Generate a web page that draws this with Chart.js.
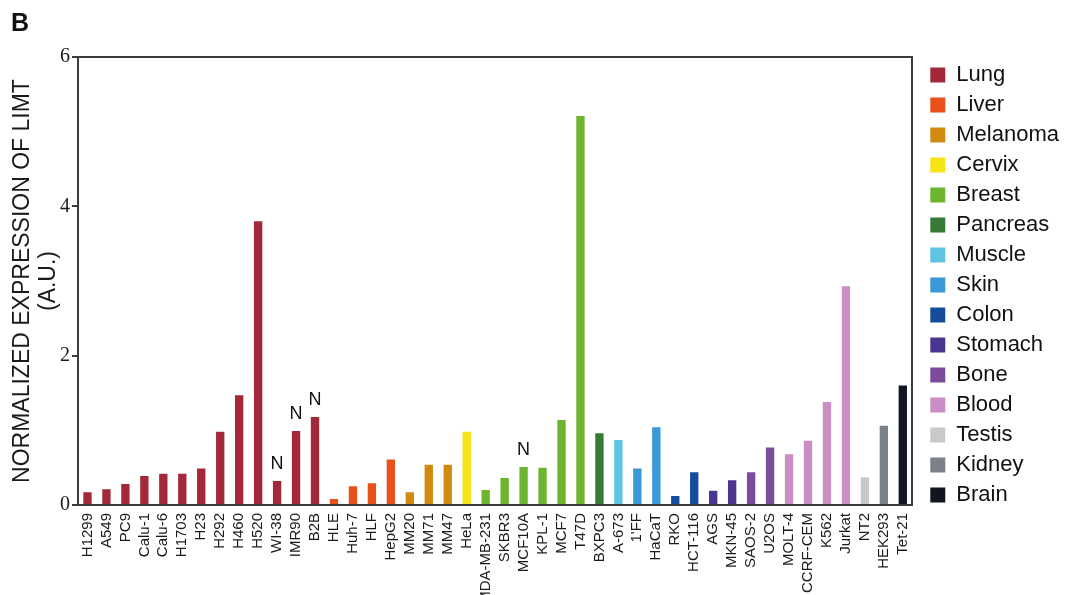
<!DOCTYPE html>
<html>
<head>
<meta charset="utf-8">
<script src="https://cdn.jsdelivr.net/npm/chart.js@4.4.1/dist/chart.umd.min.js"></script>
<style>
  html, body { margin: 0; padding: 0; background: #fff; }
  #wrap { width: 1065px; height: 595px; }
</style>
</head>
<body>
<div id="wrap"><canvas id="chart-limt" width="1065" height="595"></canvas></div>
<script>
// Tissue groups + legend colours
const tissues = ['Lung', 'Liver', 'Melanoma', 'Cervix', 'Breast', 'Pancreas', 'Muscle', 'Skin',
  'Colon', 'Stomach', 'Bone', 'Blood', 'Testis', 'Kidney', 'Brain'];
const tissueColors = ['#a3293a', '#e8521a', '#d08a10', '#f7e414', '#6db52f', '#357a35', '#5dc4e2',
  '#3a98d6', '#154c9c', '#4a3690', '#7c4b9c', '#ca8ec4', '#c9c9c9', '#7c8088', '#111520'];

// Cell lines, in plot order
const cellLines = ['H1299', 'A549', 'PC9', 'Calu-1', 'Calu-6', 'H1703', 'H23', 'H292', 'H460', 'H520',
  'WI-38', 'IMR90', 'B2B', 'HLE', 'Huh-7', 'HLF', 'HepG2', 'MM20', 'MM71', 'MM47', 'HeLa',
  'MDA-MB-231', 'SKBR3', 'MCF10A', 'KPL-1', 'MCF7', 'T47D', 'BXPC3', 'A-673', "1'FF", 'HaCaT',
  'RKO', 'HCT-116', 'AGS', 'MKN-45', 'SAOS-2', 'U2OS', 'MOLT-4', 'CCRF-CEM', 'K562', 'Jurkat',
  'NT2', 'HEK293', 'Tet-21'];

// tissue index for each cell line
const cellTissue = [0, 0, 0, 0, 0, 0, 0, 0, 0, 0, 0, 0, 0, 1, 1, 1, 1, 2, 2, 2, 3,
  4, 4, 4, 4, 4, 4, 5, 6, 7, 7, 8, 8, 9, 9, 10, 10, 11, 11, 11, 11, 12, 13, 14];

const limtExpression = [0.17, 0.21, 0.28, 0.39, 0.42, 0.42, 0.49, 0.98, 1.47, 3.80,
  0.32, 0.99, 1.18, 0.08, 0.25, 0.29, 0.61, 0.17, 0.54, 0.54, 0.98,
  0.20, 0.36, 0.51, 0.50, 1.14, 5.21, 0.96, 0.87, 0.49, 1.04,
  0.12, 0.44, 0.19, 0.33, 0.44, 0.77, 0.68, 0.86, 1.38, 2.93,
  0.37, 1.06, 1.60];

// normal (non-tumour) lines marked with "N"
const normalLines = ['WI-38', 'IMR90', 'B2B', 'MCF10A'];

const yTicks = [0, 2, 4, 6];

const AXIS = '#3c3c3c';
const TEXT = '#111';

const markerPlugin = {
  id: 'markers',
  afterDatasetsDraw(chart) {
    const ctx = chart.ctx;
    const meta = chart.getDatasetMeta(0);
    ctx.save();
    ctx.fillStyle = TEXT;
    ctx.textAlign = 'center';
    ctx.textBaseline = 'alphabetic';
    ctx.font = '18px "Liberation Sans", Arial, sans-serif';
    normalLines.forEach(name => {
      const bar = meta.data[cellLines.indexOf(name)];
      ctx.fillText('N', bar.x, bar.y - 12);
    });
    // panel letter
    ctx.textAlign = 'left';
    ctx.font = 'bold 25px "Liberation Sans", Arial, sans-serif';
    ctx.fillText('B', 11, 31);
    ctx.restore();
  }
};

new Chart(document.getElementById('chart-limt').getContext('2d'), {
  type: 'bar',
  data: {
    labels: cellLines,
    datasets: [{
      data: limtExpression,
      backgroundColor: cellTissue.map(t => tissueColors[t]),
      borderWidth: 0,
      categoryPercentage: 1,
      barPercentage: 0.44
    }]
  },
  plugins: [markerPlugin],
  options: {
    responsive: false,
    animation: false,
    layout: { padding: { top: 0, left: 0, right: -4, bottom: 0 } },
    scales: {
      x: {
        grid: { display: false },
        border: { color: AXIS, width: 2 },
        ticks: {
          autoSkip: false,
          minRotation: 90,
          maxRotation: 90,
          padding: 0,
          color: '#1a1a1a',
          font: { family: '"Liberation Sans", Arial, sans-serif', size: 15 }
        },
        afterFit: s => { s.height = 90; }
      },
      x2: {
        type: 'category',
        position: 'top',
        labels: cellLines,
        grid: { display: false },
        border: { color: AXIS, width: 2 },
        ticks: { display: false },
        afterFit: s => { s.height = 57; }
      },
      y: {
        min: 0,
        max: 6,
        afterBuildTicks: s => { s.ticks = yTicks.map(v => ({ value: v })); },
        grid: { drawOnChartArea: false, color: AXIS, lineWidth: 2, tickLength: 6 },
        border: { color: AXIS, width: 2 },
        ticks: {
          padding: 2,
          color: '#1a1a1a',
          font: { family: '"Liberation Serif", "Times New Roman", serif', size: 20 }
        },
        title: {
          display: true,
          text: ['NORMALIZED EXPRESSION OF LIMT', '(A.U.)'],
          color: '#1a1a1a',
          padding: { top: 9, bottom: 0 },
          font: { family: '"Liberation Sans", Arial, sans-serif', size: 23, lineHeight: 1.15 }
        },
        afterFit: s => { s.width = 78; }
      },
      y2: {
        position: 'right',
        min: 0,
        max: 6,
        grid: { display: false },
        border: { color: AXIS, width: 2 },
        ticks: { display: false },
        afterFit: s => { s.width = 10; }
      }
    },
    plugins: {
      legend: {
        position: 'right',
        align: 'start',
        onClick: null,
        // empty title only used as a top spacer
        title: { display: true, text: ' ', color: TEXT, font: { size: 10, lineHeight: 1 }, padding: { top: 46, bottom: 0 } },
        labels: {
          boxWidth: 15,
          boxHeight: 15,
          padding: 8,
          color: TEXT,
          font: { family: '"Liberation Sans", Arial, sans-serif', size: 22 },
          generateLabels: () => tissues.map((t, i) => ({
            text: t,
            fillStyle: tissueColors[i],
            strokeStyle: tissueColors[i],
            fontColor: TEXT,
            lineWidth: 0,
            hidden: false,
            index: i
          }))
        }
      },
      tooltip: { enabled: false }
    }
  }
});
</script>
</body>
</html>
